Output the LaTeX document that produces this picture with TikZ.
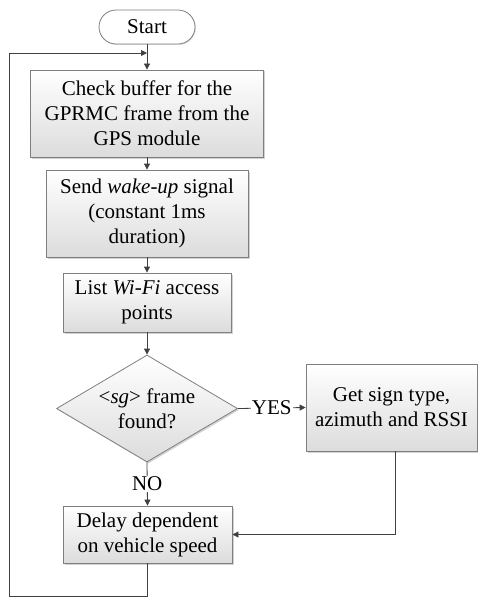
\documentclass[tikz,border=0pt]{standalone}
\usepackage{fontspec}
\setmainfont{Liberation Serif}
\usetikzlibrary{shapes.geometric,shadows,arrows.meta}
\definecolor{boxline}{HTML}{7F7F7F}
\definecolor{arrowc}{HTML}{404040}
\definecolor{boxbot}{HTML}{DCDCDC}
\tikzset{
  procbox/.style={draw=boxline, line width=0.8pt, top color=white, bottom color=boxbot,
    drop shadow={shadow xshift=1.5pt, shadow yshift=-1.5pt, fill=black!35, opacity=0.5},
    align=center, inner sep=0pt, font=\fontsize{21}{25}\selectfont},
  decision/.style={procbox, diamond, aspect=1.69},
  termbox/.style={draw=boxline, line width=0.8pt, fill=white, rounded corners=17pt,
    drop shadow={shadow xshift=1pt, shadow yshift=-1pt, fill=black!30, opacity=0.4},
    align=center, inner sep=0pt, font=\fontsize{21}{25}\selectfont},
  flow/.style={draw=arrowc, line width=0.8pt, -{Triangle[length=6pt,width=6pt]}},
  plainline/.style={draw=arrowc, line width=0.8pt},
  lbl/.style={fill=white, inner sep=1pt, font=\fontsize{21}{25}\selectfont}
}
\begin{document}
\begin{tikzpicture}[x=1pt, y=-1pt]
\useasboundingbox (0,0) rectangle (478,599);
\node[termbox, minimum width=96pt, minimum height=34pt] (start) at (147,27) {Start};
\node[procbox, minimum width=233pt, minimum height=87pt] (check) at (147,113.5)
  {Check buffer for the\\GPRMC frame from the\\GPS module};
\node[procbox, minimum width=202pt, minimum height=87pt] (send) at (147,213.5)
  {Send \textit{wake-up} signal\\(constant 1ms\\duration)};
\node[procbox, minimum width=168pt, minimum height=59pt] (list) at (147,302.5)
  {List \textit{Wi-Fi} access\\points};
\node[decision, minimum width=181pt, minimum height=107pt] (dec) at (147,408.5)
  {\textless\textit{sg}\textgreater{} frame\\found?};
\node[procbox, minimum width=171pt, minimum height=87pt] (get) at (391.5,407.5)
  {Get sign type,\\azimuth and RSSI};
\node[procbox, minimum width=169pt, minimum height=57pt] (delay) at (147.5,534.5)
  {Delay dependent\\on vehicle speed};
\coordinate (lb) at (9,596.5);
\coordinate (lt) at (9,53);
\coordinate (lj) at (147,53);

\draw[flow] (start) -- (check);
\draw[flow] (check) -- (send);
\draw[flow] (send) -- (list);
\draw[flow] (list) -- (dec);
\draw[flow] (dec.east) -- node[lbl, pos=0.5]{YES} (get.west);
\draw[flow] (dec.south) -- node[lbl, pos=0.5]{NO} (delay.north);
\draw[flow] ([xshift=4pt]get.south) |- (delay.east);
\draw[plainline] (delay.south) |- (lb) -- (lt);
\draw[flow] (lt) -- (lj);
\end{tikzpicture}
\end{document}
